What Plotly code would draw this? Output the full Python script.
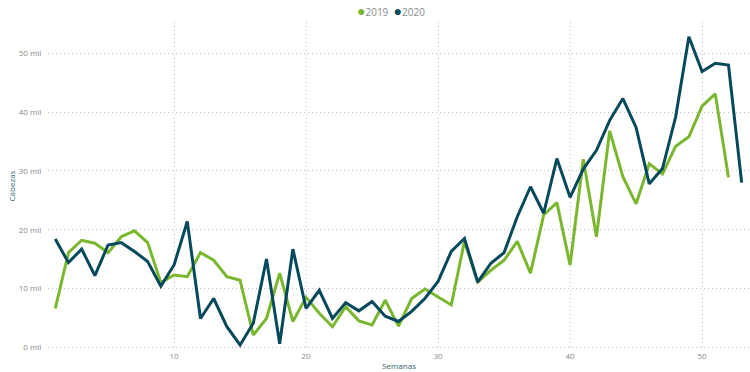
import plotly.graph_objects as go

weeks_2019 = list(range(1, 53))
weeks_2020 = list(range(1, 54))

# Cabezas (miles)
values_2019 = [6.6, 16.1, 18.2, 17.7, 16.1, 18.8, 19.8, 17.8, 11.0, 12.3,
               12.0, 16.1, 14.8, 12.0, 11.4, 2.1, 4.9, 12.6, 4.4, 8.5,
               5.8, 3.5, 6.9, 4.5, 3.8, 8.0, 3.6, 8.3, 9.9, 8.6,
               7.2, 18.0, 11.1, 13.1, 14.8, 18.0, 12.6, 22.5, 24.6, 14.0,
               32.0, 18.8, 36.8, 29.0, 24.4, 31.2, 29.5, 34.2, 35.8, 41.0,
               43.1, 28.9]
values_2020 = [18.4, 14.4, 16.7, 12.2, 17.4, 17.8, 16.3, 14.6, 10.4, 14.0,
               21.4, 4.9, 8.3, 3.5, 0.4, 4.1, 15.0, 0.6, 16.7, 6.6,
               9.7, 4.9, 7.6, 6.2, 7.8, 5.3, 4.4, 6.1, 8.3, 11.2,
               16.3, 18.5, 11.1, 14.3, 16.1, 22.2, 27.3, 22.8, 32.1, 25.5,
               30.3, 33.5, 38.6, 42.3, 37.4, 27.8, 30.4, 39.2, 52.8, 46.9,
               48.3, 48.0, 28.0]

series_names = ["2019", "2020"]
colors = ["#7AB72E", "#06495C"]

y_tickvals = [0, 10, 20, 30, 40, 50]
y_ticktext = ["0 mil", "10 mil", "20 mil", "30 mil", "40 mil", "50 mil"]
x_tickvals = [10, 20, 30, 40, 50]

fig = go.Figure()
for name, xs, ys, c in zip(series_names, [weeks_2019, weeks_2020],
                           [values_2019, values_2020], colors):
    fig.add_trace(go.Scatter(x=xs, y=ys, mode="lines", name=name,
                             line=dict(color=c, width=3), showlegend=False))

# compact legend (dot + label) built from the series names/colours
legend_text = "&nbsp;&nbsp;".join(
    f"<span style='color:{c};font-size:14px'>●</span>{n}"
    for n, c in zip(series_names, colors)
)
fig.add_annotation(text=legend_text, xref="paper", yref="paper",
                   x=0.4886, y=1.036, xanchor="center", yanchor="middle",
                   showarrow=False, font=dict(size=10, color="#8A8A8A"))

font_family = "Open Sans, Noto Sans, sans-serif"
grid_col = "#BDBDBD"

fig.update_layout(
    width=750, height=372,
    margin=dict(l=48, r=0, t=22, b=22),
    paper_bgcolor="white", plot_bgcolor="white",
    font=dict(family=font_family, size=9, color="#808080"),
    showlegend=False,
    xaxis=dict(range=[0.45, 53.63], tickvals=x_tickvals,
               showgrid=True, gridcolor=grid_col, griddash="1px,3px", gridwidth=1,
               zeroline=False, showline=False, ticks="",
               tickfont=dict(size=8, color="#8A8A8A"),
               title=dict(text="Semanas", standoff=3,
                          font=dict(size=8, color="#2F5F6E")),
               automargin=False),
    yaxis=dict(range=[-0.46, 55.32], tickvals=y_tickvals, ticktext=y_ticktext,
               showgrid=True, gridcolor=grid_col, griddash="1px,3px", gridwidth=1,
               zeroline=False, showline=False, ticks="outside", ticklen=4,
               tickcolor="rgba(0,0,0,0)",
               tickfont=dict(size=8, color="#8A8A8A"),
               title=dict(text="Cabezas", standoff=1,
                          font=dict(size=8, color="#2F5F6E")),
               automargin=False),
)

fig.write_html("out.html", config={"displayModeBar": False},
               post_script="document.body.style.margin='0';")
